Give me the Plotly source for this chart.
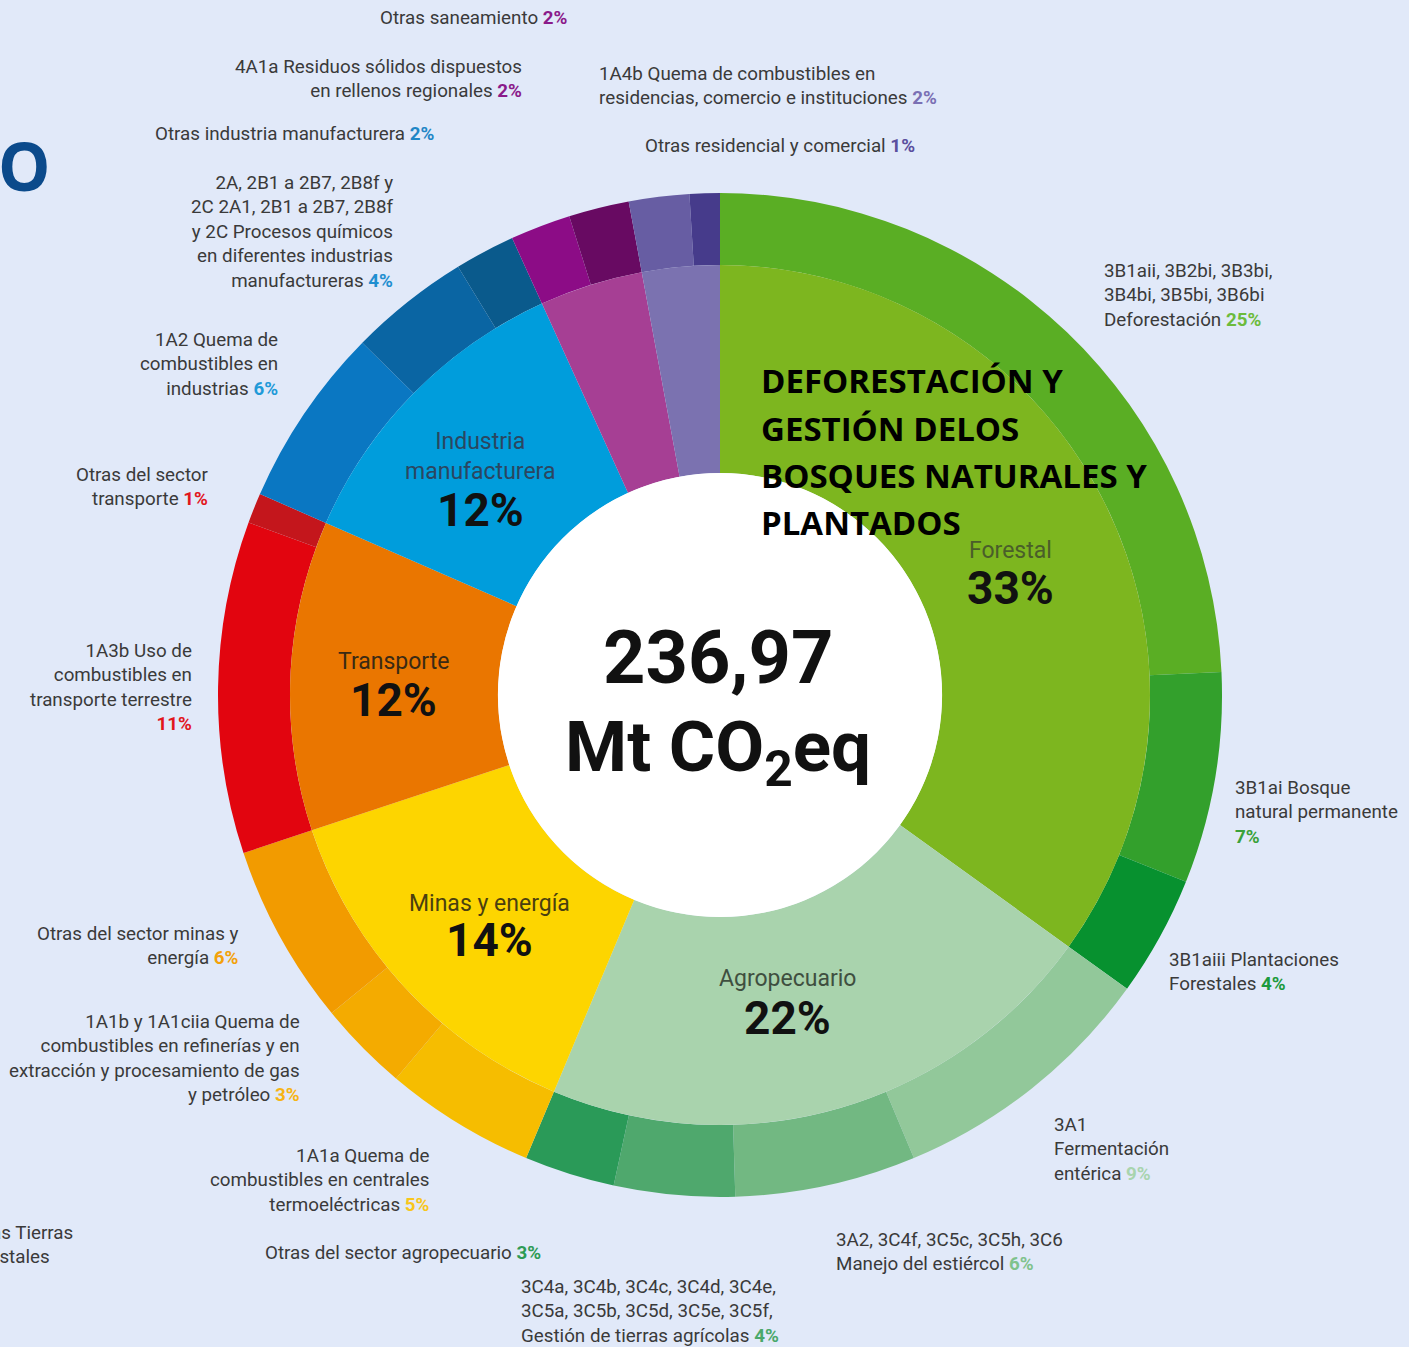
import plotly.graph_objects as go

W, H = 1409, 1347
CX, CY = 720, 695
R_OUT, R_MID, R_HOLE = 502, 430, 222

# ---------------- data ----------------
groups = ["Forestal", "Agropecuario", "Minas y energía", "Transporte",
          "Industria manufacturera", "Saneamiento", "Residencial"]
group_pct_text = ["33%", "22%", "14%", "12%", "12%", "", ""]
group_colors = ["#7db61f", "#a9d3ad", "#fdd500", "#ea7600", "#009ddc", "#a63f94", "#7b72b0"]

sub_names = [
    "3B1aii, 3B2bi, 3B3bi, 3B4bi, 3B5bi, 3B6bi Deforestación",
    "3B1ai Bosque natural permanente",
    "3B1aiii Plantaciones Forestales",
    "3A1 Fermentación entérica",
    "3A2, 3C4f, 3C5c, 3C5h, 3C6 Manejo del estiércol",
    "3C4a, 3C4b, 3C4c, 3C4d, 3C4e, 3C5a, 3C5b, 3C5d, 3C5e, 3C5f, Gestión de tierras agrícolas",
    "Otras del sector agropecuario",
    "1A1a Quema de combustibles en centrales termoeléctricas",
    "1A1b y 1A1ciia Quema de combustibles en refinerías y en extracción y procesamiento de gas y petróleo",
    "Otras del sector minas y energía",
    "1A3b Uso de combustibles en transporte terrestre",
    "Otras del sector transporte",
    "1A2 Quema de combustibles en industrias",
    "2A, 2B1 a 2B7, 2B8f y 2C Procesos químicos",
    "Otras industria manufacturera",
    "4A1a Residuos sólidos dispuestos en rellenos regionales",
    "Otras saneamiento",
    "1A4b Quema de combustibles en residencias, comercio e instituciones",
    "Otras residencial y comercial",
]
sub_values = [25, 7, 4, 9, 6, 4, 3, 5, 3, 6, 11, 1, 6, 4, 2, 2, 2, 2, 1]
sub_group = ["Forestal"] * 3 + ["Agropecuario"] * 4 + ["Minas y energía"] * 3 + \
            ["Transporte"] * 2 + ["Industria manufacturera"] * 3 + ["Saneamiento"] * 2 + \
            ["Residencial"] * 2
sub_colors = ["#5aae24", "#33a02c", "#07912f", "#92c89a", "#72b882", "#4fa86d", "#2a9a58",
              "#f6bd00", "#f4ab00", "#f29b00", "#e2050f", "#c4161c",
              "#0a77c2", "#0a65a3", "#0a5a8c", "#8c0c86", "#680a62", "#675da3", "#463b8b"]

total_text = "236,97"
unit_text = "Mt CO<sub>2</sub>eq"
title_lines = ["DEFORESTACIÓN Y", "GESTIÓN DELOS", "BOSQUES NATURALES Y", "PLANTADOS"]

group_values = [sum(v for v, g in zip(sub_values, sub_group) if g == grp) for grp in groups]

# ---------------- helpers ----------------
def dom(r):
    return dict(x=[(CX - r) / W, (CX + r) / W],
                y=[(H - CY - r) / H, (H - CY + r) / H])

def px(x):
    return x / W

def py(y):
    return (H - y) / H

fig = go.Figure()
fig.add_trace(go.Pie(values=sub_values, labels=sub_names, sort=False, direction="clockwise",
                     rotation=0, hole=R_MID / R_OUT, domain=dom(R_OUT),
                     marker=dict(colors=sub_colors, line=dict(width=0)),
                     textinfo="none", showlegend=False, hoverinfo="label+percent"))
fig.add_trace(go.Pie(values=group_values, labels=groups, sort=False, direction="clockwise",
                     rotation=0, hole=R_HOLE / R_MID, domain=dom(R_MID),
                     marker=dict(colors=group_colors, line=dict(width=0)),
                     textinfo="none", showlegend=False, hoverinfo="label+percent"))
fig.add_trace(go.Pie(values=[1], labels=["Total"], sort=False, domain=dom(R_HOLE),
                     marker=dict(colors=["#ffffff"], line=dict(width=0)),
                     textinfo="none", showlegend=False, hoverinfo="skip"))

TXT = "#3a3a3a"
FONT = "Roboto, Liberation Sans, sans-serif"
ann = []

def pct(p, c):
    return f"<b><span style='color:{c}'>{p}</span></b>"

# outer labels: (text, x, y, side)
outer_labels = [
    ("Otras saneamiento " + pct("2%", "#8a1a8a"), 570, 18, "right"),
    ("4A1a Residuos sólidos dispuestos<br>en rellenos regionales " + pct("2%", "#8a1a8a"), 524, 79, "right"),
    ("Otras industria manufacturera " + pct("2%", "#1f86c6"), 436, 134, "right"),
    ("2A, 2B1 a 2B7, 2B8f y<br>2C 2A1, 2B1 a 2B7, 2B8f<br>y 2C Procesos químicos<br>en diferentes industrias<br>manufactureras " + pct("4%", "#1f8fd0"), 395, 232, "right"),
    ("1A2 Quema de<br>combustibles en<br>industrias " + pct("6%", "#1f9ad8"), 280, 364, "right"),
    ("Otras del sector<br>transporte " + pct("1%", "#e2161c"), 211, 487, "right"),
    ("1A3b Uso de<br>combustibles en<br>transporte terrestre<br>" + pct("11%", "#e2161c"), 194, 687, "right"),
    ("Otras del sector minas y<br>energía " + pct("6%", "#f3a10a"), 241, 946, "right"),
    ("1A1b y 1A1ciia Quema de<br>combustibles en refinerías y en<br>extracción y procesamiento de gas<br>y petróleo " + pct("3%", "#f6b414"), 302, 1058, "right"),
    ("1A1a Quema de<br>combustibles en centrales<br>termoeléctricas " + pct("5%", "#f8c61c"), 432, 1180, "right"),
    ("Otras del sector agropecuario " + pct("3%", "#2e9b55"), 543, 1253, "right"),
    ("3C4a, 3C4b, 3C4c, 3C4d, 3C4e,<br>3C5a, 3C5b, 3C5d, 3C5e, 3C5f,<br>Gestión de tierras agrícolas " + pct("4%", "#4aa86a"), 519, 1311, "left"),
    ("1A4b Quema de combustibles en<br>residencias, comercio e instituciones " + pct("2%", "#7a70b4"), 597, 86, "left"),
    ("Otras residencial y comercial " + pct("1%", "#5a4f9e"), 643, 146, "left"),
    ("3B1aii, 3B2bi, 3B3bi,<br>3B4bi, 3B5bi, 3B6bi<br>Deforestación " + pct("25%", "#6cbb3c"), 1102, 295, "left"),
    ("3B1ai Bosque<br>natural permanente<br>" + pct("7%", "#3aa13a"), 1233, 812, "left"),
    ("3B1aiii Plantaciones<br>Forestales " + pct("4%", "#1c9a3c"), 1167, 972, "left"),
    ("3A1<br>Fermentación<br>entérica " + pct("9%", "#a8d4ae"), 1052, 1149, "left"),
    ("3A2, 3C4f, 3C5c, 3C5h, 3C6<br>Manejo del estiércol " + pct("6%", "#7fc28c"), 834, 1252, "left"),
    ("Otras Tierras<br>forestales<br>" + pct("1%", "#8dbb2a"), -36, 1257, "left"),
]
for text, x, y, side in outer_labels:
    ann.append(dict(text=text, x=px(x), y=py(y), xref="paper", yref="paper",
                    xanchor=side, yanchor="middle", align=side, showarrow=False,
                    font=dict(family=FONT, size=18.8, color=TXT)))

# inner labels: (group name text, x, y of name, y of pct)
inner_pos = [
    ("Forestal", 1010, 550, 588),
    ("Agropecuario", 788, 978, 1018),
    ("Minas y energía", 489, 903, 940),
    ("Transporte", 394, 661, 700),
    ("Industria<br>manufacturera", 480, 456, 510),
]
name_colors = ["#4a5e2a", "#3f4f40", "#4a3f10", "#3a2a14", "#2b4660"]
for (name, x, yn, yp), nc, p in zip(inner_pos, name_colors, group_pct_text):
    ann.append(dict(text=name, x=px(x), y=py(yn), xref="paper", yref="paper",
                    xanchor="center", yanchor="middle", showarrow=False,
                    font=dict(family=FONT, size=23, color=nc)))
    ann.append(dict(text=f"<b>{p}</b>", x=px(x), y=py(yp), xref="paper", yref="paper",
                    xanchor="center", yanchor="middle", showarrow=False,
                    font=dict(family=FONT, size=46, color="#111111")))

# center
ann.append(dict(text=f"<b>{total_text}</b>", x=px(718), y=py(657), xref="paper", yref="paper",
                xanchor="center", yanchor="middle", showarrow=False,
                font=dict(family=FONT, size=74, color="#111111")))
ann.append(dict(text=f"<b>{unit_text}</b>", x=px(718), y=py(752), xref="paper", yref="paper",
                xanchor="center", yanchor="middle", showarrow=False,
                font=dict(family=FONT, size=71, color="#111111")))

# overlay title, one line at a time
for line, yy in zip(title_lines, [381, 428, 475, 522]):
    ann.append(dict(text=f"<b>{line}</b>", x=px(759), y=py(yy), xref="paper", yref="paper",
                    xanchor="left", yanchor="middle", align="left", showarrow=False,
                    font=dict(family="Open Sans, sans-serif", size=33, color="#000000")))

# cut-off title letter
ann.append(dict(text="<b>O</b>", x=px(-4), y=py(165), xref="paper", yref="paper",
                xanchor="left", yanchor="middle", showarrow=False,
                font=dict(family="Open Sans, sans-serif", size=66, color="#0b4a8b")))

fig.update_layout(width=W, height=H, margin=dict(l=0, r=0, t=0, b=0),
                  paper_bgcolor="#e1e9f9", plot_bgcolor="#e1e9f9",
                  annotations=ann, showlegend=False)

fig.write_html("out.html", config={"displayModeBar": False},
               post_script="document.body.style.margin='0px';document.body.style.background='#e1e9f9';")
